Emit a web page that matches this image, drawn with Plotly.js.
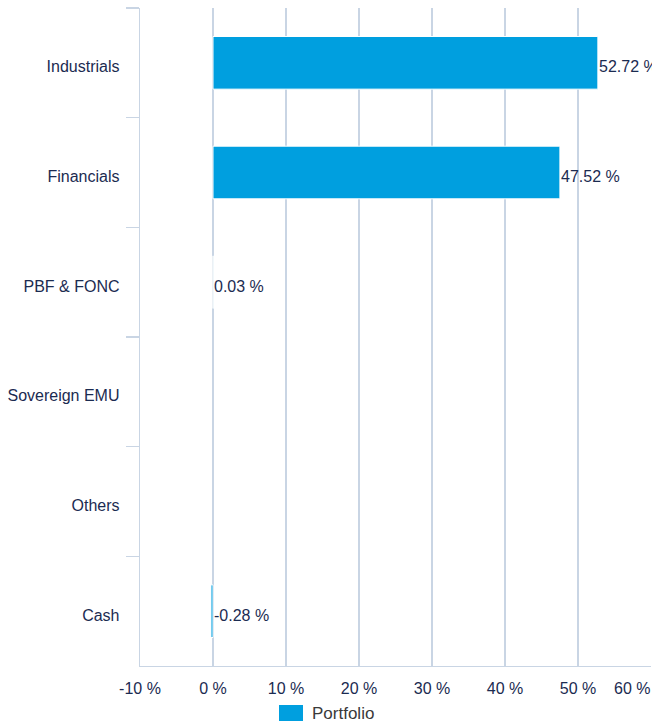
<!DOCTYPE html>
<html>
<head>
<meta charset="utf-8">
<script src="https://cdn.plot.ly/plotly-3.0.1.min.js"></script>
<style>html,body{margin:0;padding:0;background:#fff;}#chart{width:652px;height:722px;}</style>
</head>
<body>
<div id="chart"></div>
<script>
const categories = ["Industrials", "Financials", "PBF & FONC", "Sovereign EMU", "Others", "Cash"];
const portfolio = [52.72, 47.52, 0.03, null, null, -0.28];
const tickValues = [-10, 0, 10, 20, 30, 40, 50, 60];
const seriesName = "Portfolio";

const navy = "#1b2b51";
const gridCol = "#c9d5e4";
const barCol = "#009fdf";
const font = "Liberation Sans, Arial, Helvetica, sans-serif";

const fmt = v => v.toFixed(2) + " %";

const labelAnns = [];
categories.forEach((c, i) => {
  const v = portfolio[i];
  if (v === null) return;
  labelAnns.push({
    x: Math.max(v, 0), y: c, xref: "x", yref: "y",
    text: fmt(v), showarrow: false, xanchor: "left", yanchor: "middle",
    xshift: -1, yshift: -4, font: {family: font, size: 16, color: navy}
  });
});

const lastTick = tickValues[tickValues.length - 1];
const tickText = tickValues.map(v => v === lastTick ? "" : v + " %");

const anns = labelAnns.concat([
  {x: lastTick, y: 0, xref: "x", yref: "paper", text: lastTick + " %", showarrow: false,
   xanchor: "right", yanchor: "top", yshift: -12, xshift: 1,
   font: {family: font, size: 16, color: navy}},
  {x: 0.333, y: -0.0715, xref: "paper", yref: "paper", text: seriesName, showarrow: false,
   xanchor: "left", yanchor: "middle", font: {family: font, size: 17, color: "#3a3a3a"}}
]);

const trace = {
  type: "bar", orientation: "h",
  y: categories, x: portfolio, name: seriesName,
  width: 0.48,
  marker: {color: barCol, line: {color: "#ffffff", width: 1}},
  hoverinfo: "skip", showlegend: false
};

const layout = {
  width: 652, height: 722,
  margin: {l: 140, r: 1, t: 8, b: 56, pad: 0},
  paper_bgcolor: "#fff", plot_bgcolor: "#fff",
  font: {family: font, size: 16, color: navy},
  showlegend: false,
  xaxis: {
    range: [-10, 60], tickvals: tickValues, ticktext: tickText,
    showgrid: true, gridcolor: gridCol, gridwidth: 1.3, zeroline: false,
    showline: true, linecolor: gridCol, linewidth: 1.3, ticks: "",
    ticklabelstandoff: 7,
    tickfont: {family: font, size: 16, color: navy}, fixedrange: true
  },
  yaxis: {
    type: "category", categoryorder: "array", categoryarray: categories,
    autorange: false, range: [categories.length - 0.5, -0.5],
    showgrid: false, zeroline: false,
    showline: true, linecolor: gridCol, linewidth: 1.3,
    ticks: "outside", tickson: "boundaries", ticklen: 13, tickcolor: gridCol, tickwidth: 1.3,
    ticklabelstandoff: 16, ticklabelshift: -4,
    tickfont: {family: font, size: 16, color: navy}, fixedrange: true
  },
  shapes: [{
    type: "rect", xref: "paper", yref: "paper",
    x0: 0.272, x1: 0.319, y0: -0.0593, y1: -0.0836,
    fillcolor: barCol, line: {width: 0}
  }],
  annotations: anns
};

Plotly.newPlot("chart", [trace], layout, {displayModeBar: false, staticPlot: true});
</script>
</body>
</html>
